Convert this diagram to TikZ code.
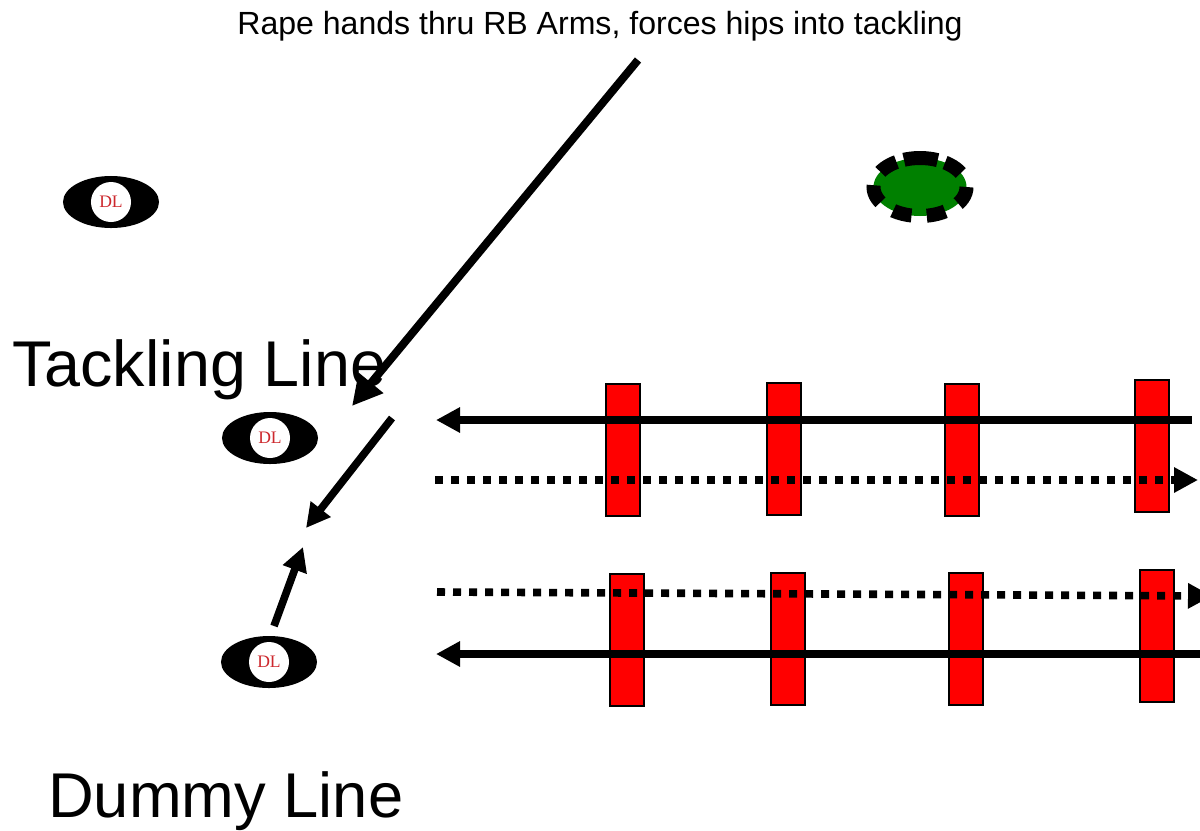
\documentclass[tikz,border=0pt]{standalone}
\usepackage{fontspec}
\setmainfont{Liberation Sans}
\newfontfamily\dlfont{Liberation Serif}
\usetikzlibrary{shapes.geometric,arrows.meta}
\definecolor{dlred}{RGB}{205,40,45}
\definecolor{padgreen}{RGB}{0,128,0}
\begin{document}
\begin{tikzpicture}[x=0.025cm,y=-0.025cm]
	\tikzstyle{dl} = [ellipse, fill=black, minimum width=2.4cm, minimum height=1.3cm, inner sep=0pt]
	\tikzstyle{dlmark} = [circle, fill=white, minimum size=1cm, inner sep=0pt, text=dlred, font=\dlfont\fontsize{12.5}{12.5}\selectfont]
	\tikzstyle{dummy} = [draw=black, fill=red, line width=0.8pt, minimum width=0.85cm, minimum height=3.3cm, inner sep=0pt]
	\tikzstyle{run} = [draw=black, line width=0.19cm, -{Triangle[length=0.6cm, width=0.6cm]}]
	\tikzstyle{dots} = [run, dash pattern=on 0.2cm off 0.2cm]
	\tikzstyle{fit} = [draw=black, line width=0.2cm, -{Triangle[length=0.75cm, width=0.75cm]}]
	\useasboundingbox (0,0) rectangle (1200,830);
	% labels
	\node[anchor=base, font=\fontsize{22.8}{27}\selectfont] (title) at (600,34) {Rape hands thru RB Arms, forces hips into tackling};
	\node[anchor=base west, inner sep=0pt, font=\fontsize{46}{52}\selectfont] (tline) at (12,386) {Tackling Line};
	\node[anchor=base west, inner sep=0pt, font=\fontsize{45}{50}\selectfont] (dline) at (48,817) {Dummy Line};
	% players
	\node[dl] (p1) at (111,202) {};
	\node[dl] (p2) at (270,438) {};
	\node[dl] (p3) at (269,662) {};
	\node[dlmark] at (p1) {DL};
	\node[dlmark] at (p2) {DL};
	\node[dlmark] at (p3) {DL};
	% ball carrier, seven blocks round the pad, the top one wide
	\filldraw[fill=padgreen, draw=black, line width=0.35cm,
		dash pattern=on 0.475cm off 0.3825cm on 0.475cm off 0.3825cm on 0.475cm off 0.3825cm
			on 0.475cm off 0.3825cm on 0.475cm off 0.195cm on 0.85cm off 0.195cm on 0.475cm off 0.39cm]
		(920,187) ellipse (46.5 and 29);
	\coordinate (rb) at (920,187);
	% dummies
	\node[dummy] (d1) at (623,450) {};
	\node[dummy] (d2) at (784,449) {};
	\node[dummy] (d3) at (962,450) {};
	\node[dummy] (d4) at (1152,446) {};
	\node[dummy] (d5) at (627,640) {};
	\node[dummy] (d6) at (788,639) {};
	\node[dummy] (d7) at (966,639) {};
	\node[dummy] (d8) at (1157,636) {};
	% path ends
	\coordinate (a0) at (638,60);
	\coordinate (a1) at (352,406);
	\coordinate (b0) at (392,418);
	\coordinate (b1) at (306,528);
	\coordinate (c0) at (274,626);
	\coordinate (c1) at (303,547);
	\coordinate (r1) at (1192,420);
	\coordinate (l1) at (436,420);
	\coordinate (l2) at (435,480);
	\coordinate (r2) at (1198,480);
	\coordinate (l3) at (437,592);
	\coordinate (r3) at (1212,596);
	\coordinate (r4) at (1200,654);
	\coordinate (l4) at (436,654);
	\draw[fit] (a0) -- (a1);
	\draw[run] (b0) -- (b1);
	\draw[run] (c0) -- (c1);
	\draw[run] (r1) -- (l1);
	\draw[dots] (l2) -- (r2);
	\draw[dots] (l3) -- (r3);
	\draw[run] (r4) -- (l4);
\end{tikzpicture}
\end{document}
